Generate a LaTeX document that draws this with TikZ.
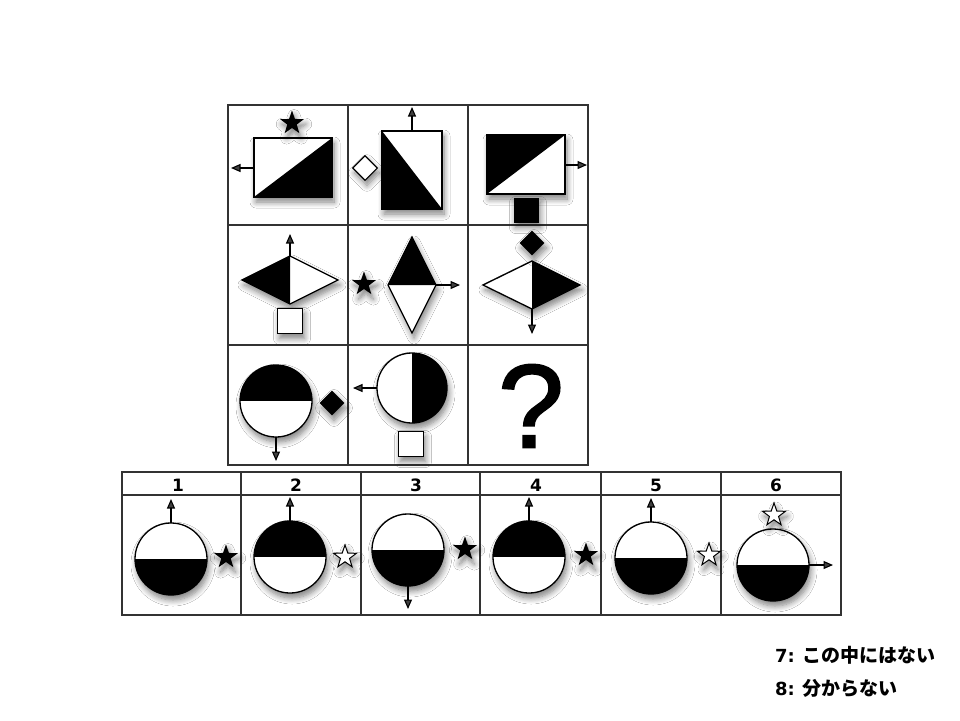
\documentclass[tikz,border=0pt]{standalone}
\usepackage{fontspec}
\setmainfont{Liberation Sans}
\newfontfamily\jpfont{Noto Sans CJK JP}
\newfontfamily\numfont{DejaVu Sans}
\newfontfamily\qfont[FakeBold=1.5]{Liberation Sans}
\usetikzlibrary{shapes.geometric,arrows.meta,shadows.blur}
\tikzset{
  gridln/.style={line width=1.4pt, draw=black!80},
  shp/.style={line width=1.3pt, draw=black},
  arr/.style={line width=1.1pt, -{Triangle[length=9.5pt,width=8pt]}},
  shad/.style={blur shadow={shadow xshift=2pt, shadow yshift=-5pt, shadow blur radius=6pt, shadow blur steps=8, shadow opacity=50}},
  starb/.style={star, star points=5, star point ratio=2.5, minimum size=25pt, inner sep=0pt, fill=black, shad},
  starw/.style={star, star points=5, star point ratio=2.5, minimum size=24pt, inner sep=0pt, fill=white, draw=black, line width=1pt, shad},
  dmd/.style={diamond, minimum width=25pt, minimum height=25pt, inner sep=0pt, shad},
  sqr/.style={rectangle, minimum width=25pt, minimum height=25pt, inner sep=0pt, shad},
  hdr/.style={font=\numfont\bfseries\fontsize{17}{17}\selectfont, inner sep=0pt},
  optnum/.style={font=\numfont\bfseries\fontsize{18}{18}\selectfont, inner sep=0pt, anchor=west},
  opttxt/.style={font=\jpfont\bfseries\fontsize{19}{19}\selectfont, inner sep=0pt, anchor=west},
}
% half-black disc: #1 cx, #2 cy, #3 r, #4 offset of black rect, #5 size of black rect
\newcommand{\hdisc}[5]{%
  \fill[white,shad] (#1,#2) circle[radius=#3];
  \begin{scope}\clip (#1,#2) circle[radius=#3]; \fill (#1,#2) ++#4 rectangle ++#5; \end{scope}
  \draw[shp] (#1,#2) circle[radius=#3];
}
\begin{document}
\begin{tikzpicture}[x=1pt,y=-1pt]
\useasboundingbox[fill=white] (0,0) rectangle (960,720);

% ---------- 3x3 grid ----------
\draw[gridln] (228,105) rectangle (588,465);
\draw[gridln] (348,105) -- (348,465) (468,105) -- (468,465)
              (228,225) -- (588,225) (228,345) -- (588,345);

% ---------- row 1 ----------
% cell 1
\fill[white,shad] (254,138) rectangle (332,197);
\fill (254,197) -- (332,138) -- (332,197) -- cycle;
\draw[shp] (254,138) rectangle (332,197);
\node[starb] (s11) at (292,123) {};
\coordinate (a11s) at (254,168); \coordinate (a11e) at (231,168);
\draw[arr] (a11s) -- (a11e);
% cell 2
\fill[white,shad] (382,131) rectangle (442,209);
\fill (382,131) -- (442,209) -- (382,209) -- cycle;
\draw[shp] (382,131) rectangle (442,209);
\node[dmd,fill=white,draw=black,line width=1.1pt] (d12) at (365,168) {};
\coordinate (a12s) at (412,131); \coordinate (a12e) at (412,107);
\draw[arr] (a12s) -- (a12e);
% cell 3
\fill[white,shad] (487,135) rectangle (565,194);
\fill (487,135) -- (565,135) -- (487,194) -- cycle;
\draw[shp] (487,135) rectangle (565,194);
\node[sqr,fill=black] (q13) at (526,210) {};
\coordinate (a13s) at (565,165); \coordinate (a13e) at (587,165);
\draw[arr] (a13s) -- (a13e);

% ---------- row 2 ----------
% cell 1
\fill[white,shad] (242,280) -- (290,256) -- (338,280) -- (290,304) -- cycle;
\fill (242,280) -- (290,256) -- (290,304) -- cycle;
\draw[shp] (242,280) -- (290,256) -- (338,280) -- (290,304) -- cycle;
\coordinate (a21s) at (290,256); \coordinate (a21e) at (290,234);
\draw[arr] (a21s) -- (a21e);
\node[sqr,fill=white,draw=black,line width=1.2pt] (q21) at (290,321) {};
% cell 2
\fill[white,shad] (388,285) -- (412,237) -- (436,285) -- (412,333) -- cycle;
\fill (388,285) -- (412,237) -- (436,285) -- cycle;
\draw[shp] (388,285) -- (412,237) -- (436,285) -- (412,333) -- cycle;
\node[starb] (s22) at (364,284) {};
\coordinate (a22s) at (436,285); \coordinate (a22e) at (460,285);
\draw[arr] (a22s) -- (a22e);
% cell 3
\fill[white,shad] (483,285) -- (532,261) -- (580,285) -- (532,309) -- cycle;
\fill (532,261) -- (580,285) -- (532,309) -- cycle;
\draw[shp] (483,285) -- (532,261) -- (580,285) -- (532,309) -- cycle;
\node[dmd,fill=black] (d23) at (532,243) {};
\coordinate (a23s) at (532,309); \coordinate (a23e) at (532,334);
\draw[arr] (a23s) -- (a23e);

% ---------- row 3 ----------
% cell 1
\hdisc{276}{401}{36}{(-40,-40)}{(80,40)}
\node[dmd,fill=black] (d31) at (332,403) {};
\coordinate (a31s) at (276,437); \coordinate (a31e) at (276,461);
\draw[arr] (a31s) -- (a31e);
% cell 2
\hdisc{412}{388}{35}{(0,-40)}{(40,80)}
\coordinate (a32s) at (377,388); \coordinate (a32e) at (353,388);
\draw[arr] (a32s) -- (a32e);
\node[sqr,fill=white,draw=black,line width=1.2pt] (q32) at (411,444) {};
% cell 3
\node[font=\qfont\fontsize{119}{119}\selectfont, inner sep=0pt] (qm) at (531,406) {?};

% ---------- answers ----------
\draw[gridln] (122,472) rectangle (841,615);
\draw[gridln] (122,495) -- (841,495);
\foreach \x in {241,361,480,601,721} \draw[gridln] (\x,472) -- (\x,615);
\node[hdr] (h1) at (178,485) {1};
\node[hdr] (h2) at (296,485) {2};
\node[hdr] (h3) at (416,485) {3};
\node[hdr] (h4) at (536,485) {4};
\node[hdr] (h5) at (656,485) {5};
\node[hdr] (h6) at (776,485) {6};

% answer 1
\hdisc{171}{559}{36}{(-40,0)}{(80,40)}
\coordinate (b1s) at (171,523); \coordinate (b1e) at (171,499);
\draw[arr] (b1s) -- (b1e);
\node[starb] (t1) at (226,557) {};
% answer 2
\hdisc{290}{557}{36}{(-40,-40)}{(80,40)}
\coordinate (b2s) at (290,521); \coordinate (b2e) at (290,497);
\draw[arr] (b2s) -- (b2e);
\node[starw] (t2) at (345,557) {};
% answer 3
\hdisc{408}{550}{36}{(-40,0)}{(80,40)}
\coordinate (b3s) at (408,586); \coordinate (b3e) at (408,609);
\draw[arr] (b3s) -- (b3e);
\node[starb] (t3) at (465,549) {};
% answer 4
\hdisc{529}{557}{36}{(-40,-40)}{(80,40)}
\coordinate (b4s) at (529,521); \coordinate (b4e) at (529,497);
\draw[arr] (b4s) -- (b4e);
\node[starb] (t4) at (586,555) {};
% answer 5
\hdisc{651}{558}{36}{(-40,0)}{(80,40)}
\coordinate (b5s) at (651,522); \coordinate (b5e) at (651,498);
\draw[arr] (b5s) -- (b5e);
\node[starw] (t5) at (709,555) {};
% answer 6
\hdisc{773}{565}{36}{(-40,0)}{(80,40)}
\coordinate (b6s) at (809,565); \coordinate (b6e) at (833,565);
\draw[arr] (b6s) -- (b6e);
\node[starw] (t6) at (774,515) {};

% ---------- extra options ----------
\node[optnum] (n7) at (775,656) {7:};
\node[opttxt] (o7) at (802,655) {この中にはない};
\node[optnum] (n8) at (775,689) {8:};
\node[opttxt] (o8) at (802,688) {分からない};
\end{tikzpicture}
\end{document}
